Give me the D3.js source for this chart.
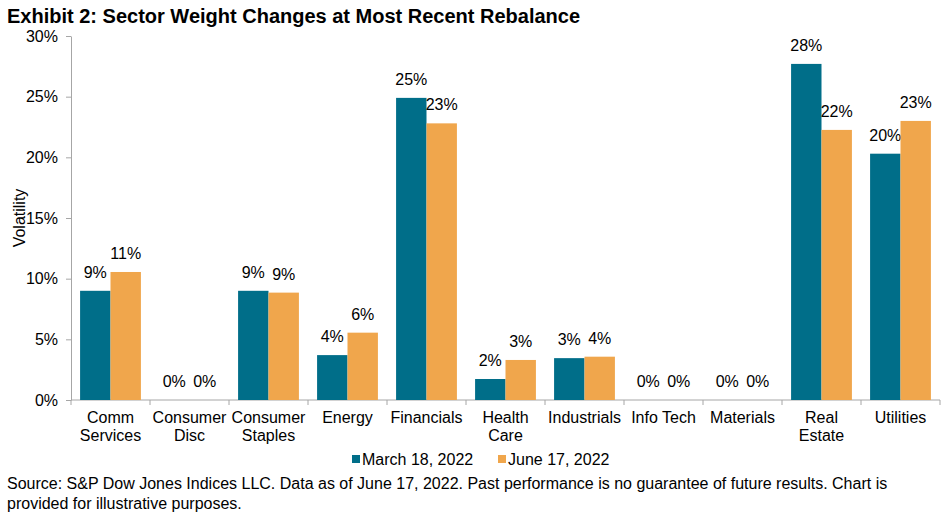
<!DOCTYPE html>
<html><head><meta charset="utf-8">
<script src="https://cdn.jsdelivr.net/npm/d3@7"></script>
<style>body{margin:0;background:#fff}svg{display:block}text{font-family:"Liberation Sans",Arial,sans-serif}</style>
</head><body>
<script>
const categories = [["Comm","Services"],["Consumer","Disc"],["Consumer","Staples"],["Energy"],["Financials"],["Health","Care"],["Industrials"],["Info Tech"],["Materials"],["Real","Estate"],["Utilities"]];
const march = [9.0, 0, 9.0, 3.7, 24.9, 1.73, 3.45, 0, 0, 27.7, 20.3];
const june = [10.55, 0, 8.85, 5.55, 22.8, 3.3, 3.57, 0, 0, 22.26, 23.0];
const seriesNames = ["March 18, 2022", "June 17, 2022"];
const colors = ["#006E89", "#F0A64C"];
const yTicks = [0, 5, 10, 15, 20, 25, 30];

const W = 950, H = 515;
const FS = 16;
const svg = d3.select("body").append("svg").attr("width", W).attr("height", H);
const m = {l: 71, r: 10, t: 36, b: 115};
const x = d3.scaleBand().domain(d3.range(categories.length)).range([m.l, W - m.r]).paddingInner(0.23).paddingOuter(0.115);
const xOuter = d3.scaleBand().domain(d3.range(categories.length)).range([m.l, W - m.r]);
const y = d3.scaleLinear().domain([0, 30]).range([H - m.b, m.t]);

svg.append("text").attr("x", 7).attr("y", 23).attr("font-size", 20).attr("font-weight", "bold").text("Exhibit 2: Sector Weight Changes at Most Recent Rebalance");

// y axis
const ya = svg.append("g").attr("transform", `translate(${m.l},0)`).call(d3.axisLeft(y).tickValues(yTicks).tickFormat(d => d + "%").tickSize(5).tickSizeOuter(0));
ya.select(".domain").attr("stroke", "#A6A6A6");
ya.selectAll(".tick line").attr("stroke", "#A6A6A6");
ya.selectAll(".tick text").attr("font-size", FS).attr("fill", "#000").attr("x", -13).attr("font-family", "Liberation Sans, Arial, sans-serif");

svg.append("text").attr("transform", `translate(25,${(y(0)+y(30))/2}) rotate(-90)`).attr("text-anchor", "middle").attr("font-size", FS).text("Volatility");

// x axis line and ticks
const xa = svg.append("g");
xa.append("line").attr("x1", m.l).attr("x2", W - m.r).attr("y1", y(0)).attr("y2", y(0)).attr("stroke", "#A6A6A6");
xa.selectAll("line.t").data(d3.range(categories.length + 1)).join("line")
  .attr("x1", i => i < categories.length ? xOuter(i) : W - m.r).attr("x2", i => i < categories.length ? xOuter(i) : W - m.r)
  .attr("y1", y(0)).attr("y2", y(0) + 5).attr("stroke", "#A6A6A6");

const bw = x.bandwidth() / 2;
const series = [march, june];
series.forEach((vals, s) => {
  svg.append("g").selectAll("rect").data(vals).join("rect")
    .attr("x", (d, i) => x(i) + s * bw).attr("width", bw)
    .attr("y", d => y(d)).attr("height", d => y(0) - y(d)).attr("fill", colors[s]);
  svg.append("g").selectAll("text").data(vals).join("text")
    .attr("x", (d, i) => x(i) + s * bw + bw / 2).attr("y", d => y(d) - 13)
    .attr("text-anchor", "middle").attr("font-size", FS).text(d => Math.round(d) + "%");
});

// category labels
const cl = svg.append("g").selectAll("text").data(categories).join("text")
  .attr("x", (d, i) => xOuter(i) + xOuter.bandwidth() / 2).attr("y", y(0) + 23)
  .attr("text-anchor", "middle").attr("font-size", FS);
cl.selectAll("tspan").data(d => d).join("tspan")
  .attr("x", function(){ return this.parentNode.getAttribute("x"); })
  .attr("dy", (d, i) => i === 0 ? 0 : 18).text(d => d);

// legend
const lg = svg.append("g");
const lx = [352, 498];
seriesNames.forEach((n, i) => {
  lg.append("rect").attr("x", lx[i]).attr("y", 455).attr("width", 8).attr("height", 8).attr("fill", colors[i]);
  lg.append("text").attr("x", lx[i] + 10).attr("y", 465).attr("font-size", FS).text(n);
});

svg.append("text").attr("x", 7).attr("y", 489).attr("font-size", FS).text("Source: S&P Dow Jones Indices LLC. Data as of June 17, 2022. Past performance is no guarantee of future results. Chart is");
svg.append("text").attr("x", 7).attr("y", 509).attr("font-size", FS).text("provided for illustrative purposes.");
</script>
</body></html>
